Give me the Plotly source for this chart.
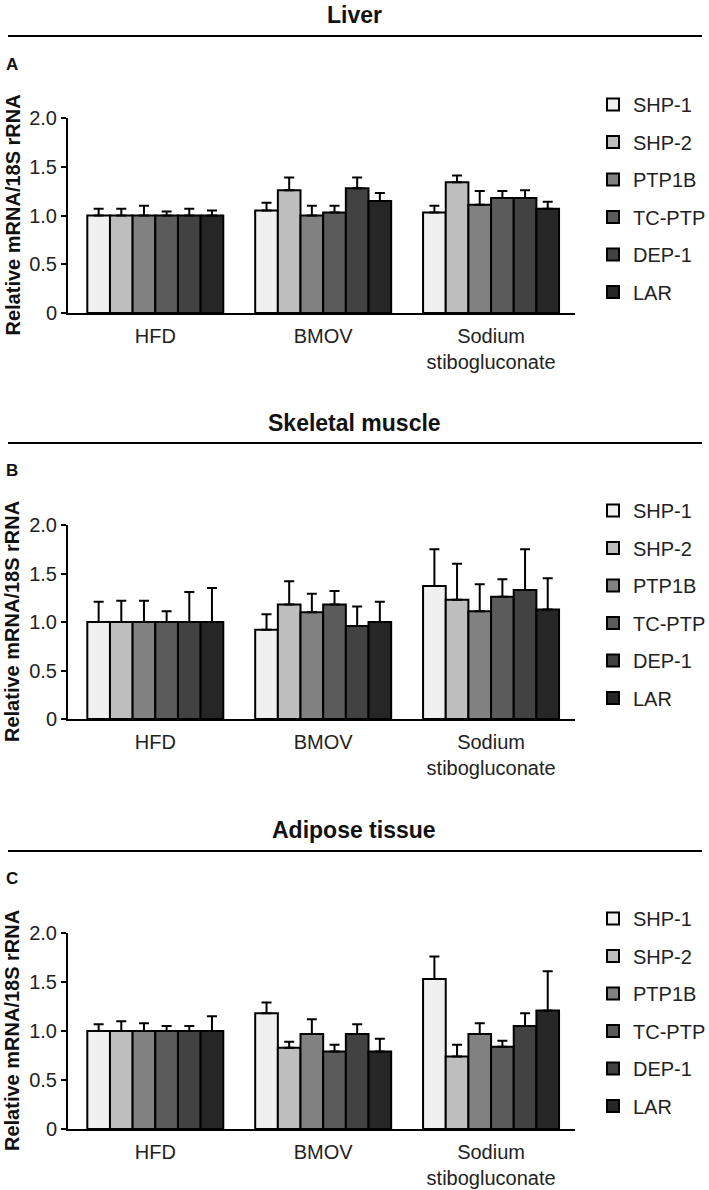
import plotly.graph_objects as go

# DATA
groups = ["HFD", "BMOV", "Sodium<br>stibogluconate"]
genes = ["SHP-1", "SHP-2", "PTP1B", "TC-PTP", "DEP-1", "LAR"]
colors = ["#f0f0f0", "#bebebe", "#818181", "#5b5b5b", "#424242", "#262626"]

# values per gene, ordered HFD, BMOV, Sodium stibogluconate
liver_mean = [
    [1.00, 1.05, 1.03],
    [1.00, 1.26, 1.34],
    [1.00, 1.00, 1.11],
    [1.00, 1.03, 1.18],
    [1.00, 1.28, 1.18],
    [1.00, 1.15, 1.07],
]
liver_top = [
    [1.07, 1.13, 1.10],
    [1.07, 1.39, 1.41],
    [1.10, 1.10, 1.25],
    [1.04, 1.10, 1.25],
    [1.07, 1.39, 1.26],
    [1.05, 1.23, 1.14],
]
muscle_mean = [
    [1.00, 0.92, 1.37],
    [1.00, 1.18, 1.23],
    [1.00, 1.10, 1.11],
    [1.00, 1.18, 1.26],
    [1.00, 0.96, 1.33],
    [1.00, 1.00, 1.13],
]
muscle_top = [
    [1.21, 1.08, 1.75],
    [1.22, 1.42, 1.60],
    [1.22, 1.29, 1.39],
    [1.11, 1.32, 1.44],
    [1.31, 1.16, 1.75],
    [1.35, 1.21, 1.45],
]
adipose_mean = [
    [1.00, 1.18, 1.53],
    [1.00, 0.83, 0.74],
    [1.00, 0.97, 0.97],
    [1.00, 0.79, 0.84],
    [1.00, 0.97, 1.05],
    [1.00, 0.79, 1.21],
]
adipose_top = [
    [1.07, 1.29, 1.76],
    [1.10, 0.89, 0.86],
    [1.08, 1.12, 1.08],
    [1.05, 0.86, 0.90],
    [1.05, 1.07, 1.18],
    [1.15, 0.92, 1.61],
]

panels = [
    ("Liver", "A", liver_mean, liver_top),
    ("Skeletal muscle", "B", muscle_mean, muscle_top),
    ("Adipose tissue", "C", adipose_mean, adipose_top),
]

W, H = 709, 1190
FONT = "Arial, Liberation Sans, sans-serif"


def py(pix):
    # pixel row -> paper y
    return 1 - pix / H


def px(pix):
    return pix / W


# pixel rows of each panel: (y of 2.0, y of 0, title, rule, letter, legend top)
rows = [
    (118, 313, 15, 36, 64, 85),
    (525, 719, 423, 443, 471, 491),
    (933, 1129, 830, 851, 878, 899),
]

fig = go.Figure()
annotations = []
shapes = []

for p, (title, letter, means, tops) in enumerate(panels):
    sfx = "" if p == 0 else str(p + 1)
    leg = "legend" + sfx
    for g, gene in enumerate(genes):
        errs = [round(t - m, 3) for t, m in zip(tops[g], means[g])]
        fig.add_trace(go.Bar(
            x=groups, y=means[g], name=gene,
            xaxis="x" + sfx, yaxis="y" + sfx,
            legend=leg, legendgroup=f"{p}-{gene}",
            marker=dict(color=colors[g], line=dict(color="black", width=2)),
            error_y=dict(type="data", array=errs, arrayminus=[0, 0, 0], symmetric=False,
                         color="black", thickness=2, width=5),
        ))

    top, bot, ty, ry, ly, legy = rows[p]
    fig.layout["xaxis" + sfx] = dict(
        domain=[px(68), px(575)], anchor="y" + sfx, type="category", automargin=False,
        range=[-0.52, 2.5], showline=True, linecolor="black", linewidth=2,
        ticks="outside", ticklen=4, tickcolor="rgba(0,0,0,0)",
        tickfont=dict(family=FONT, size=20, color="#222"), showgrid=False, zeroline=False,
    )
    fig.layout["yaxis" + sfx] = dict(
        domain=[py(bot), py(top)], anchor="x" + sfx, range=[0, 2.0], automargin=False,
        tickvals=[0, 0.5, 1.0, 1.5, 2.0], ticktext=["0", "0.5", "1.0", "1.5", "2.0"],
        showline=True, linecolor="black", linewidth=2, ticks="outside", ticklen=5,
        tickwidth=2, tickcolor="black", tickfont=dict(family=FONT, size=20, color="#222"),
        showgrid=False, zeroline=False,
    )
    fig.layout[leg] = dict(
        x=px(593), y=py(legy), xanchor="left", yanchor="top",
        font=dict(family=FONT, size=20, color="#222"), tracegroupgap=8.5,
        itemwidth=30, bgcolor="rgba(0,0,0,0)",
    )

    annotations.append(dict(text=f"<b>{title}</b>", x=px(354), y=py(ty), xref="paper", yref="paper",
                            xanchor="center", yanchor="middle", showarrow=False,
                            font=dict(family=FONT, size=23, color="#111")))
    annotations.append(dict(text=f"<b>{letter}</b>", x=px(4), y=py(ly), xref="paper", yref="paper",
                            xanchor="left", yanchor="middle", showarrow=False,
                            font=dict(family=FONT, size=17, color="#111")))
    annotations.append(dict(text="<b>Relative mRNA/18S rRNA</b>", x=px(12), y=py((top + bot) / 2),
                            xref="paper", yref="paper", xanchor="center", yanchor="middle",
                            textangle=-90, showarrow=False,
                            font=dict(family=FONT, size=20, color="#111")))
    shapes.append(dict(type="line", xref="paper", yref="paper", x0=px(8), x1=px(702),
                       y0=py(ry), y1=py(ry), line=dict(color="black", width=2)))

fig.update_layout(
    width=W, height=H, margin=dict(l=0, r=0, t=0, b=0, autoexpand=False),
    barmode="group", bargap=0.19, bargroupgap=0,
    plot_bgcolor="white", paper_bgcolor="white",
    annotations=annotations, shapes=shapes,
)

# drop the browser's default body margin so the figure fills the window
fig.write_html("out.html", config={"displayModeBar": False},
               post_script="document.body.style.margin = '0';")
